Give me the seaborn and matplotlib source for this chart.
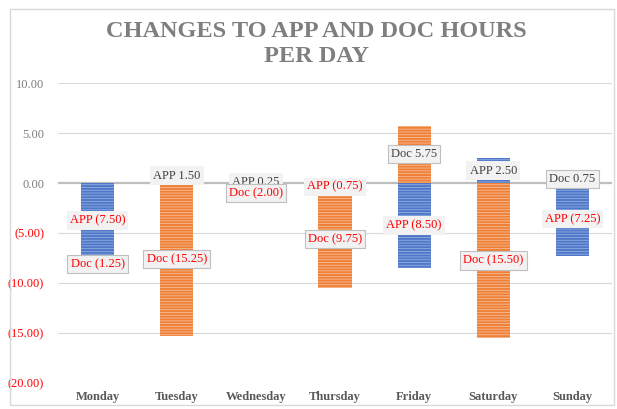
import matplotlib
matplotlib.use("Agg")
import matplotlib.pyplot as plt
import seaborn as sns
import pandas as pd
import numpy as np
from matplotlib.patches import FancyBboxPatch

# ---- data ----
days = ["Monday", "Tuesday", "Wednesday", "Thursday", "Friday", "Saturday", "Sunday"]
app = [-7.50, 1.50, 0.25, -0.75, -8.50, 2.50, -7.25]
doc = [-1.25, -15.25, -2.00, -9.75, 5.75, -15.50, 0.75]
yticks = [10, 5, 0, -5, -10, -15, -20]
title = "CHANGES TO APP AND DOC HOURS\nPER DAY"

blue, blue_light = "#4F78C8", "#92ADE2"
orange, orange_light = "#EE8038", "#F7BC93"

sns.set_theme(style="white")
plt.rcParams['font.family'] = ['Liberation Serif', 'DejaVu Serif']
plt.rcParams['hatch.linewidth'] = 0.6


def fmt(v):
    return f"({abs(v):.2f})" if v < 0 else f"{v:.2f}"


app_a = np.array(app)
doc_a = np.array(doc)
same = np.sign(app_a) == np.sign(doc_a)
doc_base = np.where(same, app_a, 0.0)
doc_end = doc_base + doc_a

df = pd.DataFrame({"day": days, "app": app, "doc_end": doc_end})

fig = plt.figure(figsize=(6.17, 4.09), dpi=100)
ax = fig.add_axes([58 / 617, 1 - 383 / 409, (612 - 58) / 617, 300 / 409])

# stacked look: full Doc extent first, APP drawn over it from zero
sns.barplot(data=df, x="day", y="doc_end", color=orange, saturation=1,
            width=0.42, errorbar=None, hatch="------", edgecolor=orange_light,
            linewidth=0, ax=ax, zorder=3)
sns.barplot(data=df, x="day", y="app", color=blue, saturation=1,
            width=0.42, errorbar=None, hatch="------", edgecolor=blue_light,
            linewidth=0, ax=ax, zorder=4)

ax.set_ylim(-20, 10)
ax.set_xlim(-0.5, len(days) - 0.5)
ax.set_yticks(yticks)
ax.set_yticklabels([fmt(v) for v in yticks])
for lab, v in zip(ax.get_yticklabels(), yticks):
    lab.set_color("#FF0000" if v < 0 else "#7F7F7F")
    lab.set_fontsize(9)
ax.tick_params(axis="y", length=0, pad=10)
ax.tick_params(axis="x", length=0, pad=6)
for lab in ax.get_xticklabels():
    lab.set_fontweight("bold")
    lab.set_color("#595959")
    lab.set_fontsize(9)
ax.set_xlabel("")
ax.set_ylabel("")
for s in ax.spines.values():
    s.set_visible(False)
for v in yticks:
    if v == 0:
        ax.axhline(v, color="#BFBFBF", lw=1.6, zorder=2)
    else:
        ax.axhline(v, color="#D9D9D9", lw=0.8, zorder=1)

# data labels
for i in range(len(days)):
    a = app[i]
    d = doc[i]
    ax.text(i, a / 2, f"APP {fmt(a)}", ha="center", va="center", fontsize=9,
            color="#FF0000" if a < 0 else "#404040", zorder=6,
            bbox=dict(boxstyle="square,pad=0.25", fc="#F2F2F2", ec="none"))
    ax.text(i, doc_base[i] + d / 2, f"Doc {fmt(d)}", ha="center", va="center",
            fontsize=9, color="#FF0000" if d < 0 else "#404040", zorder=7,
            bbox=dict(boxstyle="square,pad=0.25", fc="#F2F2F2", ec="#BFBFBF", lw=0.8))

fig.text(316 / 617, 1 - 44 / 409, title, ha="center", va="center",
         fontsize=17.5, fontweight="bold", color="#7F7F7F", linespacing=1.28)

fig.patches.append(FancyBboxPatch((10 / 617, 4 / 409), 604 / 617, 396 / 409,
                                  boxstyle="square,pad=0", transform=fig.transFigure,
                                  fc="none", ec="#D9D9D9", lw=1.0))

fig.savefig("out.png", dpi=100)
